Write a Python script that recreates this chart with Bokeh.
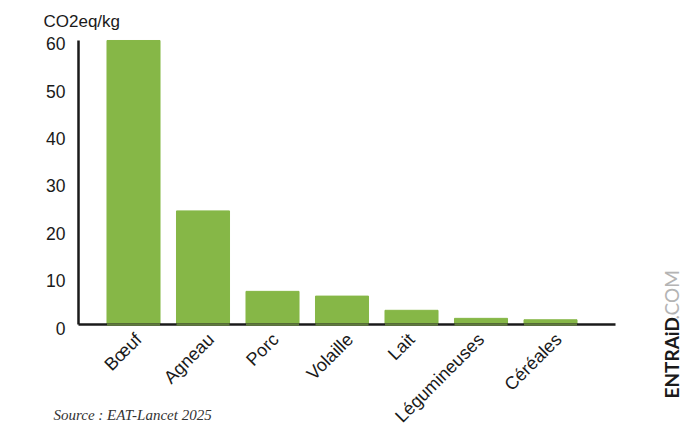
from math import pi

from bokeh.embed import file_html
from bokeh.models import FixedTicker, Label, Range1d
from bokeh.plotting import figure
from bokeh.resources import INLINE

# Emissions par kg d'aliment
categories = ["Bœuf", "Agneau", "Porc", "Volaille", "Lait", "Légumineuses", "Céréales"]
values = [60, 24, 7, 6, 3, 1.3, 1]
y_ticks = [0, 10, 20, 30, 40, 50, 60]
positions = list(range(len(categories)))

# décalage horizontal de chaque étiquette par rapport à sa barre (px)
label_shift = [5, 8, 3, 8, 0, 0, 8]

GREEN = "#86b747"
DARK = "#1a1a1a"
SANS = "Liberation Sans"
BAR_WIDTH = 0.763
AXIS_LEFT = -0.791
AXIS_RIGHT = 6.935

# Les Label sont coupés hors du cadre: le cadre occupe donc toute la page,
# et les axes sont fixés à leur place dans les données.
p = figure(
    output_backend="svg",
    toolbar_location=None,
    width=700,
    height=443,
    min_border=0,
    x_range=Range1d(-1.9137, 8.158),
    y_range=Range1d(-25.14, 68.45),
)
p.outline_line_color = None
p.grid.visible = False
p.background_fill_color = "white"

p.vbar(x=positions, top=values, bottom=0, width=BAR_WIDTH, color=GREEN)

# Axes sans graduations
p.xaxis.fixed_location = 0
p.xaxis.bounds = (AXIS_LEFT, AXIS_RIGHT)
p.xaxis.ticker = FixedTicker(ticks=[])
p.xaxis.axis_line_color = DARK
p.xaxis.axis_line_width = 2.5

p.yaxis.fixed_location = AXIS_LEFT
p.yaxis.bounds = (0, 60)
p.yaxis.ticker = FixedTicker(ticks=[])
p.yaxis.axis_line_color = DARK
p.yaxis.axis_line_width = 2.5

# la barre recouvre l'axe, qui reste visible en vert sombre
p.segment(
    x0=[x - BAR_WIDTH / 2 for x in positions],
    x1=[x + BAR_WIDTH / 2 for x in positions],
    y0=[0] * len(positions),
    y1=[0] * len(positions),
    line_color="#5f7a3c",
    line_width=2.5,
    level="overlay",
)

# Etiquettes
for tick in y_ticks:
    p.add_layout(Label(x=AXIS_LEFT, y=tick, x_offset=-13, y_offset=-3.5, text=str(tick),
                       text_align="right", text_baseline="middle",
                       text_font=SANS, text_font_size="17.5px", text_color=DARK))

for pos, name, shift in zip(positions, categories, label_shift):
    p.add_layout(Label(x=pos, y=0, x_offset=shift, y_offset=-12, text=name, angle=pi / 4,
                       text_align="right", text_baseline="middle",
                       text_font=SANS, text_font_size="18px", text_color=DARK))

# Textes autour du graphique
p.add_layout(Label(x=43, y=422, x_units="screen", y_units="screen", text="CO2eq/kg",
                   text_baseline="alphabetic",
                   text_font=SANS, text_font_size="17px", text_color=DARK))
p.add_layout(Label(x=53, y=29, x_units="screen", y_units="screen", text="Source : EAT-Lancet 2025",
                   text_baseline="alphabetic",
                   text_font="Liberation Serif", text_font_style="italic",
                   text_font_size="15px", text_color="#333333"))
p.add_layout(Label(x=671, y=45, x_units="screen", y_units="screen", text="ENTRAiD", angle=pi / 2,
                   text_baseline="alphabetic",
                   text_font="Lato", text_font_style="bold", text_font_size="19px",
                   text_color=DARK))
p.add_layout(Label(x=671, y=124, x_units="screen", y_units="screen", text=".COM", angle=pi / 2,
                   text_baseline="alphabetic",
                   text_font="Lato", text_font_size="19px", text_color="#b4b4b4"))

open("out.html", "w").write(file_html(p, INLINE))
